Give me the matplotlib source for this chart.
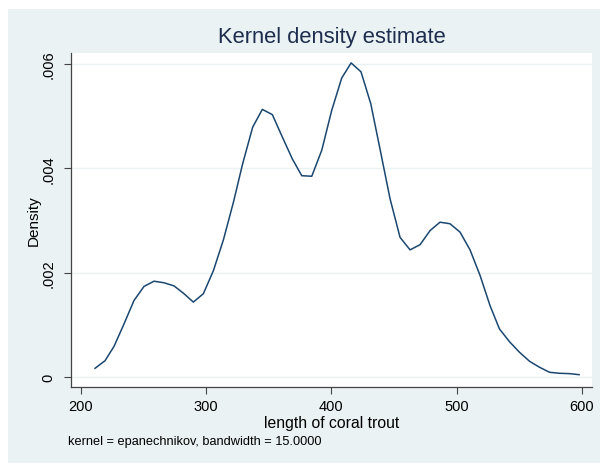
import matplotlib
matplotlib.use("Agg")
import matplotlib.pyplot as plt
from matplotlib.patches import Rectangle

plt.rcParams['font.family'] = ['Liberation Sans', 'DejaVu Sans']

# kernel density estimate
length = [211.2, 219.2, 226.4, 234.3, 242.3, 250.3, 258.3, 266.3, 274.3, 282.3,
          289.7, 297.7, 305.7, 313.7, 321.7, 329.1, 337.1, 344.8, 352.8, 360.8,
          368.8, 376.3, 384.3, 392.3, 400.2, 408.2, 415.7, 423.6, 431.4, 438.8,
          446.8, 454.8, 462.8, 470.8, 478.8, 486.7, 494.7, 502.7, 510.7, 518.7,
          526.7, 534.2, 542.2, 550.2, 558.2, 566.2, 574.2, 582.2, 590.2, 597.8]
density = [0.000172, 0.000318, 0.000594, 0.00102, 0.00147, 0.00174, 0.00184, 0.00181,
           0.00175, 0.00160, 0.00144, 0.00160, 0.00204, 0.00263, 0.00335, 0.00409,
           0.00479, 0.00513, 0.00503, 0.00460, 0.00418, 0.00386, 0.00385, 0.00435,
           0.00511, 0.00573, 0.00602, 0.00585, 0.00524, 0.00437, 0.00342, 0.00268,
           0.00244, 0.00254, 0.00281, 0.00297, 0.00294, 0.00278, 0.00244, 0.00195,
           0.00137, 0.000925, 0.000682, 0.000479, 0.000307, 0.000192, 0.0000958,
           0.0000766, 0.0000700, 0.0000500]

xticks = [200, 300, 400, 500, 600]
yticks = [0, 0.002, 0.004, 0.006]
ylabels = ['0', '.002', '.004', '.006']

W, H = 600, 464
fig = plt.figure(figsize=(6, 4.64), dpi=100, facecolor='white')
# light blue graph region (white strip left and top)
fig.patches.append(Rectangle((8 / W, 0), 1, (H - 10) / H, transform=fig.transFigure,
                             facecolor='#eaf2f3', edgecolor='none', zorder=-10))

ax = fig.add_axes([71 / W, (H - 388) / H, (592 - 71) / W, (388 - 54) / H])
ax.set_zorder(5)
ax.set_facecolor('white')
ax.plot(length, density, color='#1a476f', lw=1.1)

ax.set_xlim(192, 608.1)
ax.set_ylim(-0.000186, 0.00621)
ax.set_xticks(xticks)
ax.set_xticklabels([str(t) for t in xticks], fontsize=10.5)
ax.set_yticks(yticks)
ax.set_yticklabels(ylabels, fontsize=10.5, rotation=90, va='center')
ax.yaxis.grid(True, color='#eaf2f3', lw=1)
ax.set_axisbelow(True)
ax.tick_params(length=5, width=0.8, color='#444444')
ax.tick_params(axis='x', pad=3.5)
ax.tick_params(axis='y', pad=6)

for s in ['top', 'right']:
    ax.spines[s].set_visible(False)
for s in ['left', 'bottom']:
    ax.spines[s].set_color('#444444')
    ax.spines[s].set_linewidth(0.9)

ax.set_ylabel('Density', fontsize=11, labelpad=0.5)

fig.text(331.5 / W, (H - 43.3) / H, 'Kernel density estimate', fontsize=15.8,
         color='#1e2d4e', ha='center', va='baseline')
fig.text(331.5 / W, (H - 428) / H, 'length of coral trout', fontsize=11.3,
         ha='center', va='baseline')
fig.text(68 / W, (H - 445) / H, 'kernel = epanechnikov, bandwidth = 15.0000',
         fontsize=9.2, ha='left', va='baseline')

fig.savefig('out.png', dpi=100, facecolor='white')
